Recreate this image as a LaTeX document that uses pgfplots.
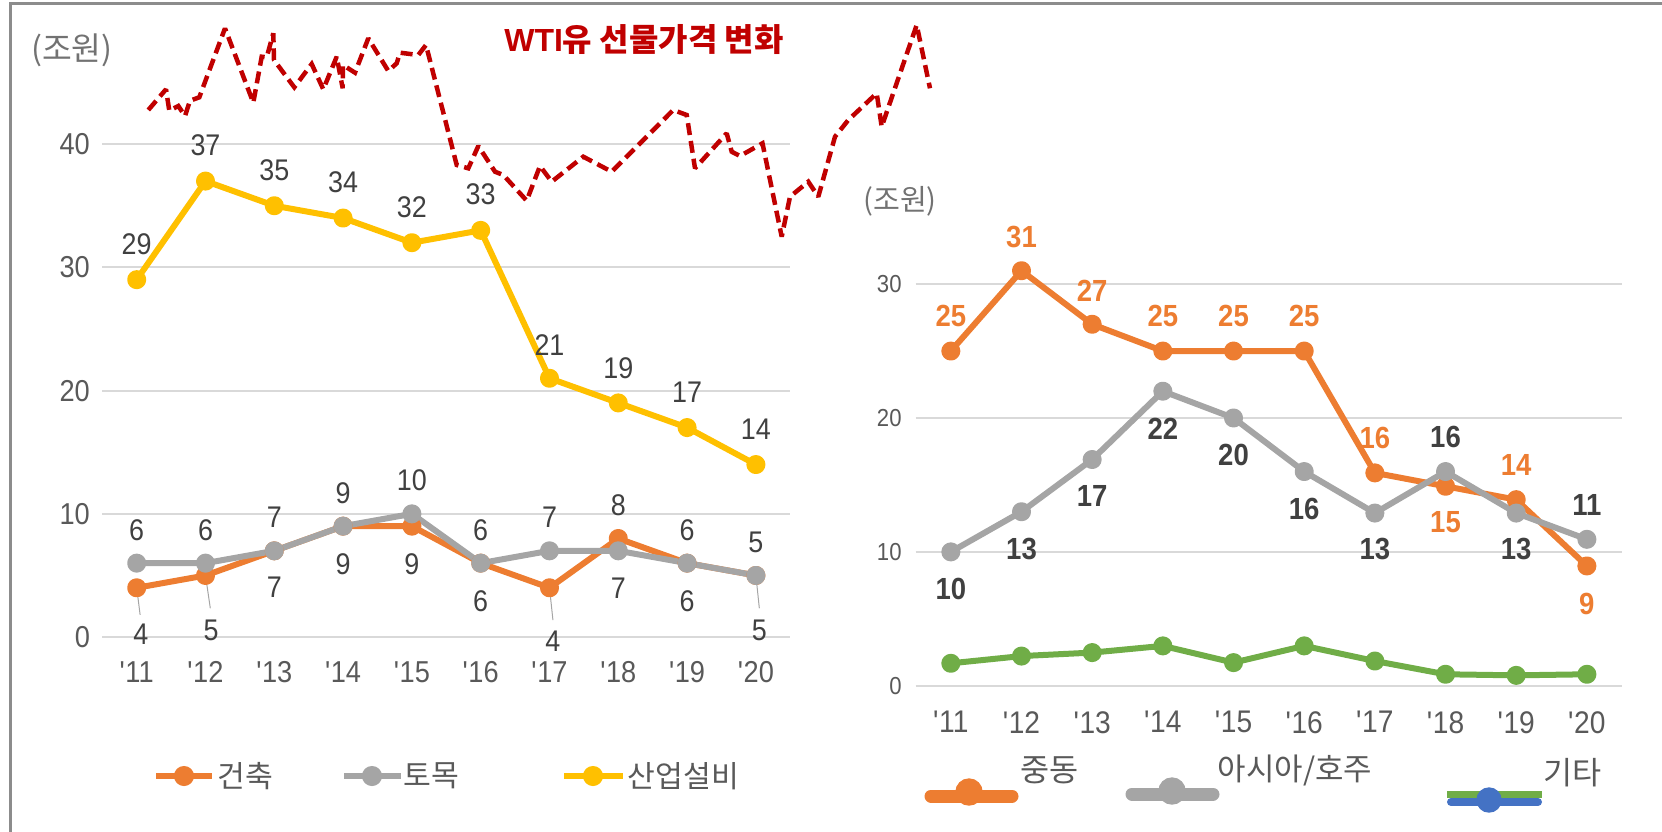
\documentclass[border=0pt]{standalone}
\usepackage{pgfplots}
\pgfplotsset{compat=1.18}
\usepackage{fontspec}
\setmainfont{Liberation Sans}
\newfontfamily\nar{Liberation Sans}[FakeStretch=0.9]
\newfontfamily\kr{Noto Sans CJK KR}
\definecolor{cOr}{HTML}{ED7D31}
\definecolor{cGr}{HTML}{A5A5A5}
\definecolor{cYe}{HTML}{FFC000}
\definecolor{cGn}{HTML}{70AD47}
\definecolor{cBl}{HTML}{4472C4}
\definecolor{cTx}{HTML}{404040}
\definecolor{cTk}{HTML}{595959}
\definecolor{cRd}{HTML}{C00000}
\definecolor{cGrid}{HTML}{D9D9D9}
\definecolor{cFr}{HTML}{8C8C8C}
\pgfplotsset{
  chartbase/.style={
    scale only axis, clip=false,
    xmin=-0.5, xmax=9.5,
    xtick={0,...,9},
    xticklabels={\textquotesingle11,\textquotesingle12,\textquotesingle13,\textquotesingle14,\textquotesingle15,\textquotesingle16,\textquotesingle17,\textquotesingle18,\textquotesingle19,\textquotesingle20},
    axis line style={draw=none},
    major tick length=0pt,
    ymajorgrids, grid style={cGrid, line width=0.2mm},
    tick label style={text=cTk},
    /pgf/number format/assume math mode=true,
  },
  ser/.style={line width=0.6mm, mark=*, mark size=0.65mm, mark options={solid}, line join=round},
}
\tikzset{
  lab/.style={font=\nar\fontsize{8.5}{9}\selectfont, text=cTx, inner sep=0pt},
  rlabo/.style={font=\nar\fontsize{8.7}{10}\selectfont\bfseries, text=cOr, inner sep=0pt},
  rlabg/.style={font=\nar\fontsize{8.7}{10}\selectfont\bfseries, text=cTx, inner sep=0pt},
}
\begin{document}
\begin{tikzpicture}
\path[use as bounding box] (0,0) rectangle (166.2mm,-83.2mm);
% ---------------- left chart ----------------
\begin{axis}[chartbase, width=68.8mm, height=49.3mm, ymin=0, ymax=40, ytick={0,10,20,30,40},
  at={(10.23mm,-63.71mm)}, anchor=south west,
  xticklabel style={font=\nar\fontsize{8.6}{9}\selectfont, yshift=-1.2mm},
  yticklabel style={font=\nar\fontsize{8.6}{9}\selectfont, xshift=0mm}]
\draw[cGr, line width=0.1mm] (axis cs:0,4) -- (axis cs:0.05,1.8);
\draw[cGr, line width=0.1mm] (axis cs:1,5) -- (axis cs:1.07,2.34);
\draw[cGr, line width=0.1mm] (axis cs:6,4) -- (axis cs:6.05,1.38);
\draw[cGr, line width=0.1mm] (axis cs:9,5) -- (axis cs:9.05,2.34);
\addplot[ser, cOr] coordinates {(0,4)(1,5)(2,7)(3,9)(4,9)(5,6)(6,4)(7,8)(8,6)(9,5)};
\addplot[ser, cGr] coordinates {(0,6)(1,6)(2,7)(3,9)(4,10)(5,6)(6,7)(7,7)(8,6)(9,5)};
\addplot[ser, cYe] coordinates {(0,29)(1,37)(2,35)(3,34)(4,32)(5,33)(6,21)(7,19)(8,17)(9,14)};
% yellow labels
\node[lab] at (axis cs:0,31.9) {29};
\node[lab] at (axis cs:1,39.9) {37};
\node[lab] at (axis cs:2,37.9) {35};
\node[lab] at (axis cs:3,36.9) {34};
\node[lab] at (axis cs:4,34.9) {32};
\node[lab] at (axis cs:5,35.96) {33};
\node[lab] at (axis cs:6,23.7) {21};
\node[lab] at (axis cs:7,21.85) {19};
\node[lab] at (axis cs:8,19.9) {17};
\node[lab] at (axis cs:9,16.9) {14};
% upper labels
\node[lab] at (axis cs:0,8.69) {6};
\node[lab] at (axis cs:1,8.69) {6};
\node[lab] at (axis cs:2,9.72) {7};
\node[lab] at (axis cs:3,11.7) {9};
\node[lab] at (axis cs:4,12.73) {10};
\node[lab] at (axis cs:5,8.69) {6};
\node[lab] at (axis cs:6,9.72) {7};
\node[lab] at (axis cs:7,10.67) {8};
\node[lab] at (axis cs:8,8.69) {6};
\node[lab] at (axis cs:9,7.66) {5};
% lower labels
\node[lab] at (axis cs:0.06,0.26) {4};
\node[lab] at (axis cs:1.08,0.52) {5};
\node[lab] at (axis cs:2,4.04) {7};
\node[lab] at (axis cs:3,5.94) {9};
\node[lab] at (axis cs:4,5.94) {9};
\node[lab] at (axis cs:5,2.92) {6};
\node[lab] at (axis cs:6.05,-0.34) {4};
\node[lab] at (axis cs:7,3.96) {7};
\node[lab] at (axis cs:8,2.92) {6};
\node[lab] at (axis cs:9.05,0.52) {5};
\end{axis}
% ---------------- right chart ----------------
\begin{axis}[chartbase, width=70.67mm, height=40.17mm, ymin=0, ymax=30, ytick={0,10,20,30},
  at={(91.55mm,-68.58mm)}, anchor=south west,
  xticklabel style={font=\nar\fontsize{8.9}{9}\selectfont, yshift=-1.3mm},
  yticklabel style={font=\nar\fontsize{7}{8}\selectfont, xshift=-0.15mm}]
\addplot[ser, cOr] coordinates {(0,25)(1,31)(2,27)(3,25)(4,25)(5,25)(6,15.9)(7,14.9)(8,13.9)(9,8.95)};
\addplot[ser, cGr] coordinates {(0,10)(1,13)(2,16.9)(3,22)(4,20)(5,16)(6,12.9)(7,16)(8,12.9)(9,10.94)};
\addplot[ser, cGn] coordinates {(0,1.68)(1,2.22)(2,2.48)(3,2.98)(4,1.73)(5,2.98)(6,1.85)(7,0.86)(8,0.78)(9,0.86)};
\node[rlabo] at (axis cs:0,27.6) {25};
\node[rlabo] at (axis cs:1,33.5) {31};
\node[rlabo] at (axis cs:2,29.5) {27};
\node[rlabo] at (axis cs:3,27.6) {25};
\node[rlabo] at (axis cs:4,27.6) {25};
\node[rlabo] at (axis cs:5,27.6) {25};
\node[rlabo] at (axis cs:6,18.5) {16};
\node[rlabo] at (axis cs:7,12.2) {15};
\node[rlabo] at (axis cs:8,16.5) {14};
\node[rlabo] at (axis cs:9,6.1) {9};
\node[rlabg] at (axis cs:0,7.2) {10};
\node[rlabg] at (axis cs:1,10.2) {13};
\node[rlabg] at (axis cs:2,14.17) {17};
\node[rlabg] at (axis cs:3,19.16) {22};
\node[rlabg] at (axis cs:4,17.25) {20};
\node[rlabg] at (axis cs:5,13.18) {16};
\node[rlabg] at (axis cs:6,10.2) {13};
\node[rlabg] at (axis cs:7,18.56) {16};
\node[rlabg] at (axis cs:8,10.2) {13};
\node[rlabg] at (axis cs:9,13.5) {11};
\end{axis}
% ---------------- overlay (pixel coordinates) ----------------
\begin{axis}[at={(0mm,0mm)}, anchor=north west, scale only axis, width=166.2mm, height=83.2mm,
  xmin=0, xmax=1662, ymin=0, ymax=832, y dir=reverse, hide axis, clip=false]
% frame
\addplot[cFr, line width=0.3mm] coordinates {(1662,3.5)(10,3.5)(10,832)};
% WTI line
\addplot[cRd, line width=0.45mm, dash pattern=on 1.2mm off 0.6mm, line join=miter, miter limit=2] coordinates {
(148.3,110)(166,89.3)(169.3,110.7)(178.3,106)(185,116)(190,100.7)(199.3,97.3)(225,28.3)
(253.3,102.7)(261.7,56.7)(266.7,57.3)(273.3,33.3)(274,60)(294.3,87.3)(311.7,64)(323.3,89.3)
(336.7,56.7)(342.7,88.3)(343,65)(355,72.7)(368.3,38.3)(388.3,71)(396.7,63.3)(400,52.7)
(418.3,55)(426,45)(456.7,165)(468.3,168.3)(478.3,146)(495,171.7)(503.3,175)(526.7,200.7)
(540,166)(551.7,181.7)(583.3,156.7)(611.7,171.7)(673.3,110)(686.7,115)(695,168.3)
(726.7,133.3)(731.7,151.7)(740,156)(762.5,143.3)(781.7,236.7)(790,196.7)(808.3,181.7)
(818.3,196.7)(835,136.7)(848.3,120)(876.7,93.3)(881.7,126.7)(916.7,25)(930,88.3)};
\node[font=\fontsize{9.1}{10}\selectfont, text=cRd, inner sep=0pt] at (axis cs:644,40) {{\bfseries WTI}{\kr\bfseries 유 선물가격 변화}};
% units
\node[font=\kr\fontsize{9.2}{10}\selectfont, text=cTk!85, inner sep=0pt] at (axis cs:72,50) {(조원)};
\node[font=\kr\fontsize{8.3}{9}\selectfont, text=cTk!85, inner sep=0pt] at (axis cs:900,201) {(조원)};
% left legend
\addplot[cOr, line width=0.6mm, mark=*, mark size=0.7mm, mark indices={2}] coordinates {(156,776)(184,776)(212,776)};
\addplot[cGr, line width=0.6mm, mark=*, mark size=0.7mm, mark indices={2}] coordinates {(344,776)(372,776)(401,776)};
\addplot[cYe, line width=0.6mm, mark=*, mark size=0.7mm, mark indices={2}] coordinates {(564,776)(593,776)(623,776)};
\node[font=\kr\fontsize{8.6}{10}\selectfont, text=cTk, anchor=west, inner sep=0pt] at (axis cs:217,776) {건축};
\node[font=\kr\fontsize{8.6}{10}\selectfont, text=cTk, anchor=west, inner sep=0pt] at (axis cs:403,776) {토목};
\node[font=\kr\fontsize{8.6}{10}\selectfont, text=cTk, anchor=west, inner sep=0pt] at (axis cs:627,776) {산업설비};
% right legend
\addplot[cOr, line width=1.3mm, line cap=round] coordinates {(931,796)(1012,796)};
\addplot[cOr, only marks, mark=*, mark size=1.3mm] coordinates {(969,792)};
\addplot[cGr, line width=1.3mm, line cap=round] coordinates {(1132,794)(1213,794)};
\addplot[cGr, only marks, mark=*, mark size=1.3mm] coordinates {(1172,791)};
\addplot[cBl, only marks, mark=*, mark size=1.2mm] coordinates {(1489,800)};
\addplot[cBl, line width=0.8mm, line cap=round] coordinates {(1451,802)(1538,802)};
\addplot[cGn, line width=0.7mm] coordinates {(1447,794.5)(1542,794.5)};
\node[font=\kr\fontsize{9}{10}\selectfont, text=cTk, anchor=west, inner sep=0pt] at (axis cs:1020,770) {중동};
\node[font=\kr\fontsize{8.8}{10}\selectfont, text=cTk, anchor=west, inner sep=0pt] at (axis cs:1217,770) {아시아/호주};
\node[font=\kr\fontsize{9}{10}\selectfont, text=cTk, anchor=west, inner sep=0pt] at (axis cs:1543,773) {기타};
\end{axis}
\end{tikzpicture}
\end{document}
